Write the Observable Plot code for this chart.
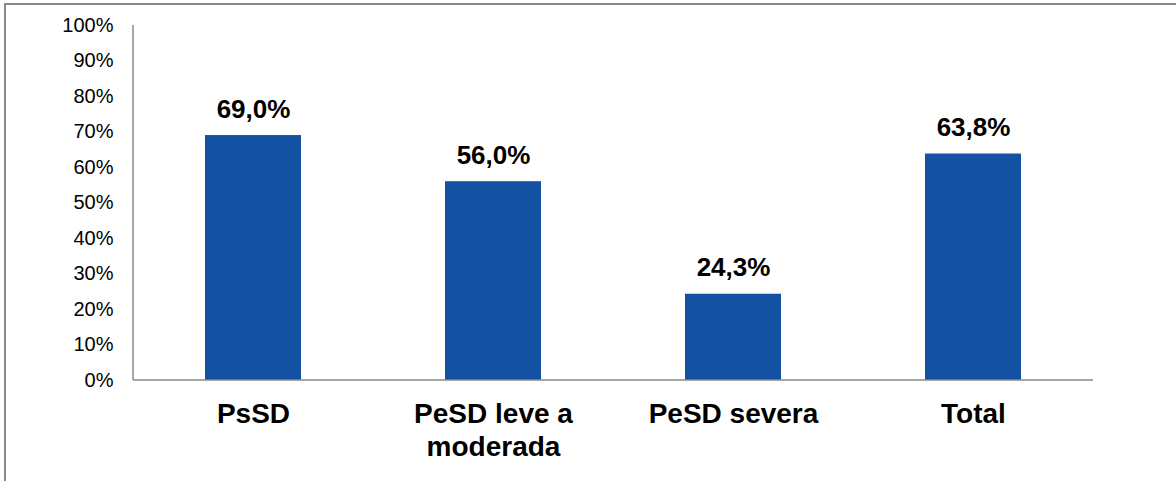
<!DOCTYPE html>
<html>
<head>
<meta charset="utf-8">
<script src="https://cdn.jsdelivr.net/npm/d3@7"></script>
<script src="https://cdn.jsdelivr.net/npm/@observablehq/plot@0.6"></script>
<style>
  html, body { margin: 0; padding: 0; background: #fff; }
  #wrap { position: relative; width: 1176px; height: 481px; overflow: hidden; }
  #frame { position: absolute; left: 4px; top: 3px; width: 1300px; height: 600px;
           border-top: 2px solid #8a8a8a; border-left: 2px solid #8a8a8a; box-sizing: border-box; }
  #chart { position: absolute; left: 0; top: 0; }
  #chart svg { font-family: Arial, "Liberation Sans", sans-serif; }
</style>
</head>
<body>
<div id="wrap"><div id="frame"></div><div id="chart"></div></div>
<script>
const categories = ["PsSD", "PeSD leve a moderada", "PeSD severa", "Total"];
const categoryLabels = ["PsSD", "PeSD leve a\nmoderada", "PeSD severa", "Total"];
const values = [69.0, 56.0, 24.3, 63.8];
const yTicks = [0, 10, 20, 30, 40, 50, 60, 70, 80, 90, 100];

const data = categories.map((c, i) => ({category: c, value: values[i]}));
const fmt = v => v.toFixed(1).replace(".", ",") + "%";

const axisLine = (index, scales, values, dims) => {
  const g = d3.create("svg:g");
  const x0 = dims.marginLeft;
  g.append("line")
    .attr("x1", x0).attr("x2", x0)
    .attr("y1", scales.y(100)).attr("y2", scales.y(0))
    .attr("stroke", "#8a8a8a").attr("stroke-width", 1.5);
  g.append("line")
    .attr("x1", x0).attr("x2", dims.width - dims.marginRight)
    .attr("y1", scales.y(0)).attr("y2", scales.y(0))
    .attr("stroke", "#8a8a8a").attr("stroke-width", 1.5);
  return g.node();
};

const chart = Plot.plot({
  width: 1176,
  height: 481,
  marginLeft: 133,
  marginRight: 83,
  marginTop: 25,
  marginBottom: 101,
  style: {background: "transparent", fontFamily: "Arial, 'Liberation Sans', sans-serif", color: "#000"},
  x: {domain: categories, padding: 0.6, paddingOuter: 0.3, label: null},
  y: {domain: [0, 100], label: null},
  marks: [
    Plot.barY(data, {x: "category", y: "value", fill: "#1352a3",
      style: "filter: drop-shadow(1px 1px 1.5px rgba(0,0,0,0.25))"}),
    axisLine,
    Plot.axisY({ticks: yTicks, tickSize: 0, tickPadding: 20, fontSize: 20, tickFormat: d => d + "%", label: null, fill: "#000"}),
    Plot.axisX({tickSize: 0, tickPadding: 19, fontSize: 28, fontWeight: "bold", lineHeight: 1.18,
      tickFormat: d => categoryLabels[categories.indexOf(d)], label: null, fill: "#000"}),
    Plot.text(data, {x: "category", y: "value", text: d => fmt(d.value), dy: -18, lineAnchor: "bottom",
      fontSize: 26, fontWeight: "bold", fill: "#000"})
  ]
});
document.getElementById("chart").appendChild(chart);
</script>
</body>
</html>
